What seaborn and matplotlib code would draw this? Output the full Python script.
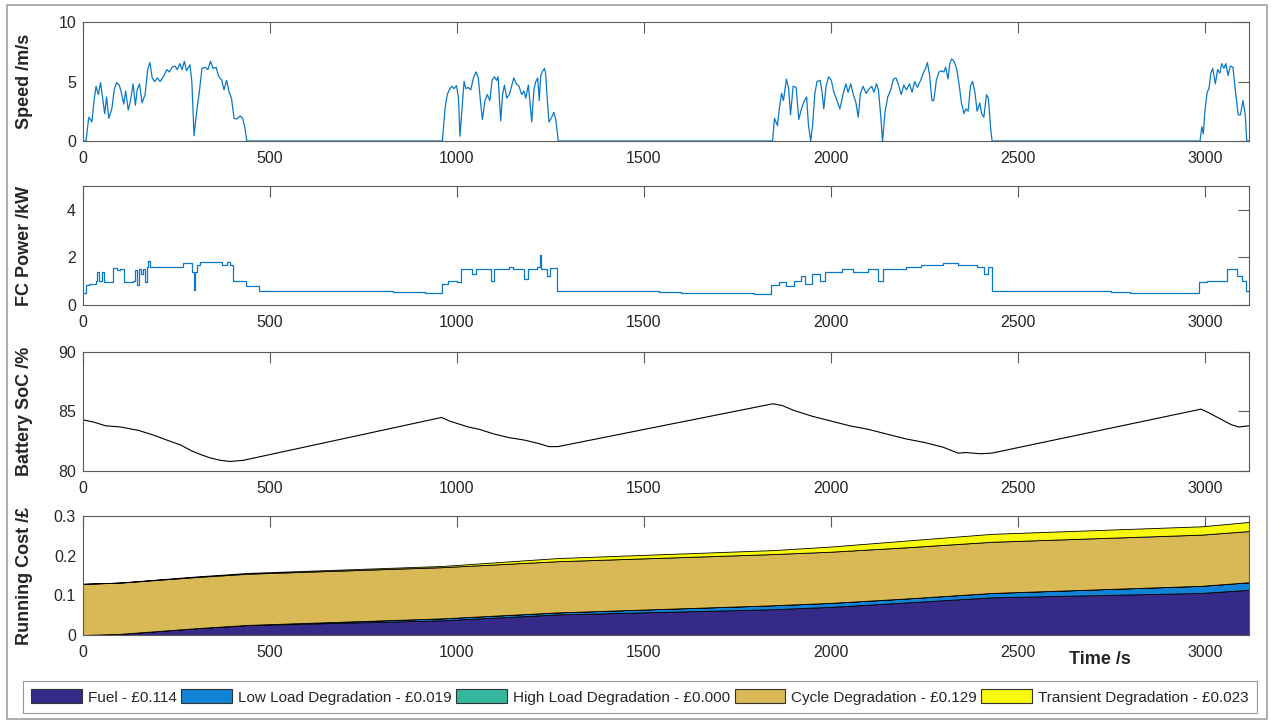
import numpy as np
import pandas as pd
import matplotlib
matplotlib.use("Agg")
import matplotlib.pyplot as plt
from matplotlib.patches import Patch, Rectangle
import seaborn as sns

# ---------------- data ----------------
speed_t = [0, 8, 14, 16, 24, 29, 35, 41, 47, 52, 58, 63, 69, 77, 84, 90, 97, 103, 109, 114, 121, 127, 134, 140,
           145, 151, 158, 166, 173, 179, 185, 192, 199, 206, 215, 224, 231, 238, 246, 252, 259, 265, 271, 277,
           286, 291, 297, 304, 311, 318, 326, 334, 341, 348, 356, 362, 371, 377, 384, 391, 397, 404, 411, 420,
           427, 433, 438,
           961, 968, 974, 981, 987, 992, 999, 1004, 1008, 1013, 1019, 1024, 1030, 1037, 1044, 1051, 1057, 1063,
           1068, 1075, 1081, 1088, 1094, 1100, 1106, 1110, 1117, 1122, 1127, 1133, 1140, 1146, 1152, 1159, 1166,
           1173, 1179, 1184, 1191, 1200, 1206, 1211, 1216, 1220, 1224, 1228, 1234, 1237, 1242, 1246, 1252, 1259,
           1264, 1271,
           1844, 1849, 1857, 1862, 1868, 1873, 1881, 1887, 1892, 1899, 1907, 1914, 1921, 1928, 1935, 1940, 1946,
           1951, 1957, 1963, 1971, 1976, 1981, 1987, 1994, 2001, 2008, 2017, 2024, 2033, 2040, 2046, 2053, 2060,
           2067, 2073, 2079, 2086, 2094, 2100, 2109, 2115, 2122, 2127, 2133, 2138, 2145, 2152, 2160, 2167, 2174,
           2181, 2188, 2195, 2202, 2210, 2217, 2224, 2231, 2240, 2247, 2253, 2258, 2264, 2270, 2275, 2282, 2289,
           2296, 2302, 2307, 2313, 2318, 2323, 2329, 2336, 2343, 2349, 2356, 2361, 2367, 2373, 2379, 2385, 2391,
           2398, 2403, 2409, 2416, 2421, 2427, 2431,
           2987, 2992, 2996, 3000, 3006, 3011, 3016, 3021, 3028, 3034, 3040, 3045, 3051, 3056, 3062, 3068, 3075,
           3082, 3089, 3095, 3102, 3108, 3112, 3118]
speed_v = [0, 0, 1.6, 2.0, 1.6, 3.3, 4.6, 3.9, 4.9, 3.7, 2.3, 3.7, 1.9, 2.7, 4.4, 4.9, 4.7, 4.0, 3.1, 4.2, 2.6, 3.4,
           4.8, 3.0, 4.3, 4.8, 3.2, 3.9, 6.0, 6.6, 5.3, 5.0, 5.3, 5.0, 5.4, 6.0, 5.8, 6.2, 6.3, 6.0, 6.5, 6.0, 6.7,
           5.9, 6.4, 5.0, 0.45, 2.5, 4.1, 6.1, 6.2, 6.0, 6.7, 6.1, 6.2, 5.5, 5.1, 4.3, 5.1, 4.1, 3.6, 1.9, 1.85,
           2.1, 1.9, 1.1, 0,
           0, 2.7, 3.9, 4.4, 4.6, 4.4, 4.65, 3.6, 0.4, 2.5, 5.0, 4.4, 4.5, 4.3, 5.3, 5.8, 5.3, 3.3, 1.8, 3.4, 3.9,
           3.4, 5.1, 5.4, 5.1, 5.4, 1.7, 3.9, 4.7, 3.6, 3.9, 4.6, 5.3, 4.8, 4.6, 3.9, 4.2, 3.6, 4.7, 1.6, 4.4, 5.0,
           5.3, 3.4, 5.5, 5.8, 6.1, 5.7, 3.3, 1.6, 1.9, 2.4, 1.85, 0,
           0, 1.9, 1.3, 2.7, 4.0, 3.4, 5.2, 4.4, 2.2, 4.6, 4.5, 1.8, 2.7, 3.3, 3.7, 1.3, 0, 1.3, 4.0, 5.0, 5.1, 4.2,
           2.7, 4.6, 5.4, 5.1, 4.1, 3.3, 2.7, 4.0, 4.8, 4.1, 4.8, 3.9, 3.2, 2.0, 4.0, 4.6, 4.0, 4.3, 4.6, 4.1, 4.8,
           4.3, 2.2, 0, 2.5, 3.7, 4.3, 5.2, 5.3, 4.7, 3.9, 4.7, 4.3, 4.8, 4.1, 5.0, 4.5, 5.1, 5.7, 6.1, 6.6, 5.5,
           3.4, 3.4, 5.1, 5.8, 5.9, 5.8, 6.2, 5.2, 6.5, 6.9, 6.7, 6.1, 4.7, 3.2, 2.3, 2.7, 2.5, 4.6, 5.0, 4.1, 2.5,
           3.2, 2.3, 2.0, 3.9, 3.6, 1.1, 0,
           0, 1.2, 0.6, 2.5, 4.1, 4.4, 5.7, 6.1, 4.8, 6.0, 5.7, 6.5, 6.1, 6.5, 5.5, 6.3, 6.2, 4.1, 2.2, 2.2, 3.4,
           2.2, 0, 0]

fc_t = [0, 8, 15, 35, 38, 42, 50, 55, 80, 92, 100, 110, 135, 140, 145, 150, 155, 160, 165, 170, 174, 178, 268,
        292, 296, 300, 306, 312, 372, 385, 392, 400, 436, 470, 830, 915, 960, 975, 1000, 1010, 1040, 1050, 1090,
        1100, 1140, 1150, 1180, 1190, 1215, 1222, 1226, 1240, 1248, 1268, 1540, 1600, 1795, 1840, 1860, 1880,
        1900, 1920, 1930, 1950, 1970, 1985, 2030, 2060, 2100, 2125, 2140, 2200, 2240, 2300, 2340, 2390, 2410,
        2420, 2432, 2750, 2800, 2985, 3005, 3060, 3085, 3100, 3110, 3118]
fc_p = [0.5, 0.85, 0.9, 1.0, 1.4, 1.0, 1.4, 0.95, 1.55, 1.45, 1.5, 0.95, 1.0, 1.45, 0.85, 1.5, 1.3, 1.5, 0.95,
        1.6, 1.85, 1.6, 1.75, 1.4, 0.65, 1.4, 1.7, 1.8, 1.7, 1.8, 1.7, 1.0, 0.8, 0.6, 0.55, 0.5, 0.9, 1.0, 0.95,
        1.5, 1.3, 1.5, 1.0, 1.5, 1.6, 1.5, 1.1, 1.5, 1.6, 2.1, 1.5, 1.2, 1.55, 0.6, 0.55, 0.5, 0.45, 0.85, 0.95,
        0.8, 1.0, 1.2, 0.9, 1.3, 1.0, 1.4, 1.5, 1.4, 1.5, 1.0, 1.5, 1.6, 1.7, 1.75, 1.7, 1.6, 1.3, 1.6, 0.6,
        0.55, 0.5, 0.95, 1.0, 1.5, 1.2, 1.0, 0.6, 0.6]

soc_t = [0, 30, 60, 100, 150, 190, 224, 260, 290, 313, 340, 367, 393, 429, 959, 980, 1000, 1030, 1060, 1100,
         1140, 1180, 1220, 1245, 1270, 1845, 1870, 1900, 1950, 2000, 2050, 2100, 2150, 2200, 2250, 2300, 2340,
         2360, 2400, 2430, 2990, 3010, 3040, 3070, 3090, 3118]
soc_v = [84.3, 84.1, 83.8, 83.7, 83.4, 83.0, 82.6, 82.2, 81.7, 81.4, 81.1, 80.9, 80.8, 80.9, 84.5, 84.2, 84.0,
         83.7, 83.5, 83.1, 82.8, 82.6, 82.3, 82.05, 82.05, 85.65, 85.5, 85.1, 84.6, 84.2, 83.8, 83.5, 83.1, 82.7,
         82.4, 82.0, 81.5, 81.55, 81.45, 81.5, 85.2, 84.9, 84.4, 83.9, 83.7, 83.8]

cost_t = [0, 100, 200, 300, 440, 960, 1270, 1845, 2000, 2200, 2430, 2990, 3118]
cost_fuel = [0, 0.003, 0.010, 0.017, 0.025, 0.037, 0.052, 0.065, 0.071, 0.082, 0.095, 0.106, 0.114]
cost_low = [0, 0, 0, 0, 0.0005, 0.005, 0.005, 0.010, 0.010, 0.010, 0.011, 0.018, 0.019]
cost_high = [0, 0, 0, 0, 0, 0, 0, 0, 0, 0, 0, 0, 0]
cost_cycle = [0.129] * 13
cost_trans = [0, 0.0005, 0.001, 0.0015, 0.002, 0.003, 0.008, 0.010, 0.013, 0.017, 0.020, 0.021, 0.023]

legend_labels = ["Fuel - £0.114", "Low Load Degradation - £0.019", "High Load Degradation - £0.000",
                 "Cycle Degradation - £0.129", "Transient Degradation - £0.023"]
layer_colors = ["#352A87", "#1184D8", "#33B89E", "#D9B856", "#F9F90F"]

# ---------------- style ----------------
sns.set_theme(style="white")
plt.rcParams["font.family"] = ["Liberation Sans", "DejaVu Sans"]
plt.rcParams["axes.edgecolor"] = "#5a5a5a"
plt.rcParams["axes.linewidth"] = 0.8
plt.rcParams["xtick.color"] = "#5a5a5a"
plt.rcParams["ytick.color"] = "#5a5a5a"
plt.rcParams["xtick.labelcolor"] = "#262626"
plt.rcParams["ytick.labelcolor"] = "#262626"

W, H = 1271, 721
fig = plt.figure(figsize=(W / 100, H / 100), dpi=100)
fig.patch.set_facecolor("white")

left = 83 / W
width = 1166 / W
height = 119 / H
tops = [22, 186, 352, 516]
axes = [fig.add_axes([left, 1 - (tp + 119) / H, width, height]) for tp in tops]

line_blue = "#0A78C8"
sns.lineplot(x=speed_t, y=speed_v, ax=axes[0], color=line_blue, linewidth=0.9, sort=False, estimator=None)
sns.lineplot(x=fc_t, y=fc_p, ax=axes[1], color=line_blue, linewidth=0.9, sort=False, estimator=None,
             drawstyle="steps-post")
sns.lineplot(x=soc_t, y=soc_v, ax=axes[2], color="black", linewidth=0.8, sort=False, estimator=None)
axes[3].stackplot(cost_t, cost_fuel, cost_low, cost_high, cost_cycle, cost_trans, colors=layer_colors,
                  edgecolor="black", linewidth=0.6)

ylims = [(0, 10), (0, 5), (80, 90), (0, 0.3)]
yticks = [[0, 5, 10], [0, 2, 4], [80, 85, 90], [0, 0.1, 0.2, 0.3]]
ytlabels = [["0", "5", "10"], ["0", "2", "4"], ["80", "85", "90"], ["0", "0.1", "0.2", "0.3"]]
ylabels = ["Speed /m/s", "FC Power /kW", "Battery SoC /%", "Running Cost /£"]
xt = [0, 500, 1000, 1500, 2000, 2500, 3000]

for ax, yl, yt, ytl, lab in zip(axes, ylims, yticks, ytlabels, ylabels):
    ax.set_xlim(0, 3118)
    ax.set_ylim(*yl)
    ax.set_xticks(xt)
    ax.set_xticklabels([str(v) for v in xt])
    ax.set_yticks(yt)
    ax.set_yticklabels(ytl)
    ax.tick_params(axis="both", which="both", direction="in", length=8, width=0.8,
                   top=True, right=True, labelsize=11.5)
    ax.tick_params(axis="x", pad=7)
    ax.tick_params(axis="y", pad=5)
    for s in ax.spines.values():
        s.set_visible(True)
        s.set_color("#5a5a5a")
        s.set_linewidth(0.8)
    ax.set_xlabel("")
    ax.set_ylabel(lab, fontsize=13, fontweight="bold", color="#262626")
    ax.yaxis.set_label_coords(-0.043, 0.5)
    ax.set_facecolor("white")

axes[3].text(0.872, -0.21, "Time /s", transform=axes[3].transAxes, ha="center", va="center",
             fontsize=13, fontweight="bold", color="#262626")

handles = [Patch(facecolor=c, edgecolor="#333333", linewidth=0.8) for c in layer_colors]
leg = fig.legend(handles, legend_labels, loc="center", ncol=5,
                 bbox_to_anchor=(23 / W, (H - 711) / H, 1234 / W, 28 / H), mode="expand",
                 frameon=True, fancybox=False, fontsize=11, handlelength=3.3, handleheight=1.0,
                 handletextpad=0.4, borderaxespad=0, borderpad=0.55, columnspacing=0.8)
leg.get_frame().set_edgecolor("#808080")
leg.get_frame().set_linewidth(0.8)
for txt in leg.get_texts():
    txt.set_color("#262626")

fig.patches.append(Rectangle((7 / W, 2 / H), 1260 / W, 714 / H, transform=fig.transFigure,
                             fill=False, edgecolor="#a0a0a0", linewidth=1.2))

fig.savefig("out.png", dpi=100, facecolor="white")
